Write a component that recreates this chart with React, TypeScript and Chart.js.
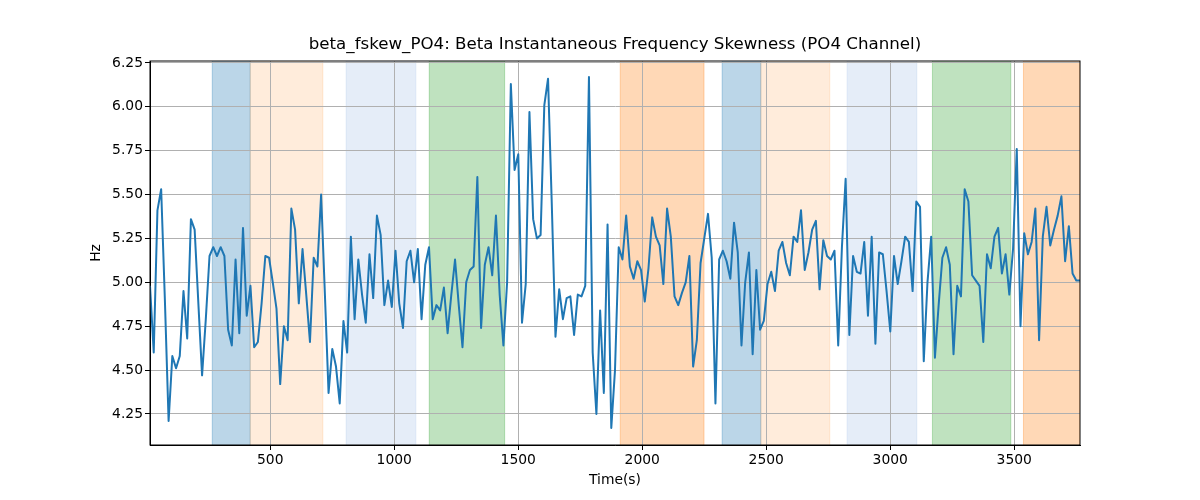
import { useEffect, useRef } from "react"
import { Chart, registerables } from "chart.js"

Chart.register(...registerables)

// Sampling grid of the signal (seconds)
const START_TIME = 15
const SAMPLE_STEP = 15

// Beta instantaneous frequency skewness, PO4 channel (Hz)
const SKEWNESS_HZ = [
  4.98, 4.6, 5.41, 5.53, 4.9, 4.21, 4.58, 4.51, 4.58, 4.95,
  4.68, 5.36, 5.3, 4.88, 4.47, 4.79, 5.15, 5.2, 5.15, 5.2,
  5.15, 4.73, 4.64, 5.13, 4.71, 5.31, 4.81, 4.98, 4.63, 4.66,
  4.88, 5.15, 5.14, 5.0, 4.85, 4.42, 4.75, 4.67, 5.42, 5.3,
  4.88, 5.19, 4.93, 4.66, 5.14, 5.09, 5.5, 4.94, 4.37, 4.62,
  4.52, 4.31, 4.78, 4.6, 5.26, 4.79, 5.13, 4.93, 4.77, 5.16,
  4.91, 5.38, 5.27, 4.87, 5.01, 4.86, 5.18, 4.88, 4.74, 5.12,
  5.18, 5.0, 5.19, 4.79, 5.1, 5.2, 4.79, 4.87, 4.84, 4.97,
  4.71, 4.93, 5.13, 4.87, 4.63, 5.0, 5.07, 5.09, 5.6, 4.74,
  5.1, 5.2, 5.04, 5.38, 4.93, 4.64, 5.0, 6.13, 5.64, 5.73,
  4.77, 4.99, 5.97, 5.36, 5.25, 5.27, 6.01, 6.16, 5.45, 4.69,
  4.96, 4.79, 4.91, 4.92, 4.7, 4.93, 4.92, 4.98, 6.17, 4.6,
  4.25, 4.84, 4.37, 5.33, 4.17, 4.5, 5.2, 5.13, 5.38, 5.09,
  5.02, 5.12, 5.07, 4.89, 5.08, 5.37, 5.26, 5.21, 4.99, 5.42,
  5.26, 4.92, 4.87, 4.94, 5.0, 5.15, 4.52, 4.67, 5.11, 5.25,
  5.39, 5.14, 4.31, 5.13, 5.18, 5.12, 5.02, 5.34, 5.17, 4.64,
  5.0, 5.17, 4.59, 5.07, 4.73, 4.78, 4.99, 5.06, 4.95, 5.18,
  5.23, 5.11, 5.04, 5.26, 5.23, 5.41, 5.07, 5.17, 5.3, 5.35,
  4.96, 5.24, 5.15, 5.13, 5.18, 4.64, 5.2, 5.59, 4.7, 5.15,
  5.06, 5.05, 5.23, 4.81, 5.26, 4.65, 5.17, 5.16, 4.95, 4.72,
  5.15, 4.99, 5.12, 5.26, 5.23, 4.95, 5.46, 5.43, 4.55, 5.0,
  5.26, 4.57, 4.87, 5.14, 5.2, 5.1, 4.59, 4.98, 4.92, 5.53,
  5.46, 5.04, 5.01, 4.98, 4.66, 5.16, 5.08, 5.26, 5.31, 5.05,
  5.16, 4.93, 5.19, 5.76, 4.75, 5.28, 5.16, 5.23, 5.42, 4.67,
  5.26, 5.43, 5.21, 5.3, 5.38, 5.49, 5.12, 5.32, 5.05, 5.01,
  5.01,
]

const X_TICKS = [500, 1000, 1500, 2000, 2500, 3000, 3500]
const Y_TICKS = [4.25, 4.5, 4.75, 5.0, 5.25, 5.5, 5.75, 6.0, 6.25]
const X_MIN = 15
const X_MAX = 3765
const Y_MIN = 4.073
const Y_MAX = 6.261

// Shaded segments (seconds) and their kind
const BAND_STARTS = [266, 419, 806, 1141, 1911, 2322, 2478, 2826, 3170, 3537]
const BAND_ENDS = [419, 712, 1087, 1445, 2249, 2478, 2756, 3107, 3486, 3765]
const BAND_KINDS = ["blue", "peach", "paleblue", "green", "orange", "blue", "peach", "paleblue", "green", "orange"]

const BAND_FILL: Record<string, string> = {
  blue: "rgba(31, 119, 180, 0.3)",
  peach: "rgba(255, 127, 14, 0.15)",
  paleblue: "rgba(174, 199, 232, 0.32)",
  green: "rgba(44, 160, 44, 0.3)",
  orange: "rgba(255, 127, 14, 0.3)",
}

const FONT_FAMILY = "'DejaVu Sans', Verdana, sans-serif"

const bandPlugin = {
  id: "bands",
  beforeDraw(chart: Chart) {
    const { ctx, chartArea, scales } = chart
    const x = scales.x
    ctx.save()
    ctx.beginPath()
    ctx.rect(chartArea.left, chartArea.top, chartArea.right - chartArea.left, chartArea.bottom - chartArea.top)
    ctx.clip()
    BAND_STARTS.forEach((start, i) => {
      const x0 = x.getPixelForValue(start)
      const x1 = x.getPixelForValue(BAND_ENDS[i])
      const color = BAND_FILL[BAND_KINDS[i]]
      ctx.fillStyle = color
      ctx.fillRect(x0, chartArea.top, x1 - x0, chartArea.bottom - chartArea.top)
      ctx.strokeStyle = color
      ctx.lineWidth = 1
      ctx.strokeRect(x0, chartArea.top - 2, x1 - x0, chartArea.bottom - chartArea.top + 4)
    })
    ctx.restore()
  },
}

const framePlugin = {
  id: "frame",
  afterDraw(chart: Chart) {
    const { ctx, chartArea } = chart
    ctx.save()
    ctx.strokeStyle = "#000"
    ctx.lineWidth = 1
    ctx.strokeRect(chartArea.left, chartArea.top, chartArea.right - chartArea.left, chartArea.bottom - chartArea.top)
    ctx.restore()
  },
}

export default function App() {
  const chartRef = useRef<HTMLCanvasElement>(null)
  const chartInstance = useRef<Chart | null>(null)

  useEffect(() => {
    if (!chartRef.current) return
    if (chartInstance.current) {
      chartInstance.current.destroy()
    }

    const points = SKEWNESS_HZ.map((y, i) => ({ x: START_TIME + i * SAMPLE_STEP, y }))
    const tickFont = { family: FONT_FAMILY, size: 13.89 }

    chartInstance.current = new Chart(chartRef.current, {
      type: "line",
      data: {
        datasets: [
          {
            label: "beta_fskew_PO4",
            data: points,
            borderColor: "#1f77b4",
            borderWidth: 2,
            pointRadius: 0,
            tension: 0,
            borderJoinStyle: "round",
            fill: false,
          },
        ],
      },
      options: {
        animation: false,
        responsive: true,
        maintainAspectRatio: false,
        parsing: false,
        layout: { padding: { left: 0, right: 120, top: 0, bottom: 0 } },
        scales: {
          x: {
            type: "linear",
            min: X_MIN,
            max: X_MAX,
            afterBuildTicks: (scale) => {
              scale.ticks = X_TICKS.map((value) => ({ value }))
            },
            afterFit: (scale) => {
              scale.height = 55
            },
            ticks: {
              font: tickFont,
              color: "#000",
              padding: 2,
              maxRotation: 0,
              autoSkip: false,
              callback: (v) => String(v),
            },
            grid: { color: "#b0b0b0", lineWidth: 1, tickColor: "#000", tickLength: 5 },
            border: { display: true, color: "#000", width: 1 },
            title: {
              display: true,
              text: "Time(s)",
              font: tickFont,
              color: "#000",
              padding: { top: 0, bottom: 11 },
            },
          },
          y: {
            type: "linear",
            min: Y_MIN,
            max: Y_MAX,
            afterBuildTicks: (scale) => {
              scale.ticks = Y_TICKS.map((value) => ({ value }))
            },
            afterFit: (scale) => {
              scale.width = 150
            },
            ticks: {
              font: tickFont,
              color: "#000",
              padding: 2,
              autoSkip: false,
              callback: (v) => Number(v).toFixed(2),
            },
            grid: { color: "#b0b0b0", lineWidth: 1, tickColor: "#000", tickLength: 5 },
            border: { display: true, color: "#000", width: 1 },
            title: {
              display: true,
              text: "Hz",
              font: tickFont,
              color: "#000",
              padding: { top: 88, bottom: 0 },
            },
          },
        },
        plugins: {
          legend: { display: false },
          tooltip: { enabled: false },
          title: {
            display: true,
            text: "beta_fskew_PO4: Beta Instantaneous Frequency Skewness (PO4 Channel)",
            font: { family: FONT_FAMILY, size: 16.67, weight: "normal" },
            color: "#000",
            padding: { top: 35, bottom: 6 },
            fullSize: false,
          },
        },
      },
      plugins: [bandPlugin, framePlugin],
    })

    return () => {
      if (chartInstance.current) {
        chartInstance.current.destroy()
        chartInstance.current = null
      }
    }
  }, [])

  return (
    <div style={{ position: "absolute", left: 0, top: 0, width: 1200, height: 500, background: "#fff" }}>
      <canvas ref={chartRef}></canvas>
    </div>
  )
}
